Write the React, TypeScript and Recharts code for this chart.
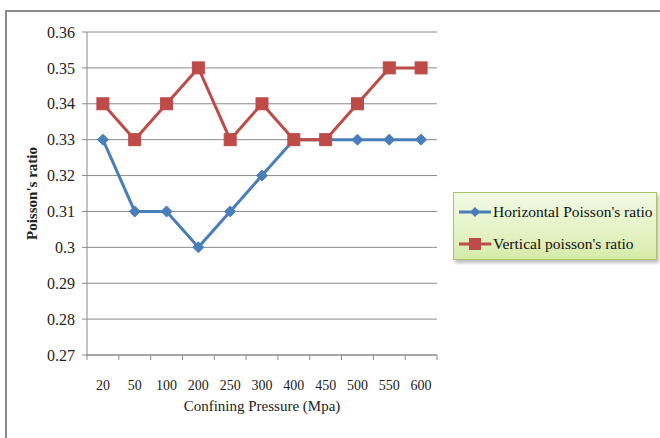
import { LineChart, Line, XAxis, YAxis, CartesianGrid, Label } from "recharts";

const pressures = ["20", "50", "100", "200", "250", "300", "400", "450", "500", "550", "600"];
const horizontalRatio = [0.33, 0.31, 0.31, 0.3, 0.31, 0.32, 0.33, 0.33, 0.33, 0.33, 0.33];
const verticalRatio = [0.34, 0.33, 0.34, 0.35, 0.33, 0.34, 0.33, 0.33, 0.34, 0.35, 0.35];
const yTicks = [0.27, 0.28, 0.29, 0.3, 0.31, 0.32, 0.33, 0.34, 0.35, 0.36];

const BLUE = "#4a7ebb";
const RED = "#be4b48";
const GRID = "#8a8a8a";
const FONT = "'Liberation Serif', 'Times New Roman', serif";

const data = pressures.map((p, i) => ({
  pressure: p,
  horizontal: horizontalRatio[i],
  vertical: verticalRatio[i],
}));

const Diamond = (props: any) => {
  const { cx, cy } = props;
  if (cx == null || cy == null) return null;
  const r = 5.5;
  return (
    <path
      d={`M${cx},${cy - r}L${cx + r},${cy}L${cx},${cy + r}L${cx - r},${cy}Z`}
      fill={BLUE}
      stroke={BLUE}
    />
  );
};

const Square = (props: any) => {
  const { cx, cy } = props;
  if (cx == null || cy == null) return null;
  const s = 6;
  return <rect x={cx - s} y={cy - s} width={s * 2} height={s * 2} fill={RED} stroke={RED} />;
};

const XTick = (props: any) => {
  const { x, y, payload, index } = props;
  const off = payload.offset || 0;
  return (
    <g>
      <line x1={x - off} y1={y} x2={x - off} y2={y + 5} stroke={GRID} />
      {index === pressures.length - 1 && (
        <line x1={x + off} y1={y} x2={x + off} y2={y + 5} stroke={GRID} />
      )}
      <text x={x} y={y + 35} textAnchor="middle" fontSize={14} fontFamily={FONT} fill="#222">
        {payload.value}
      </text>
    </g>
  );
};

const LegendBox = () => (
  <div
    style={{
      position: "absolute",
      left: 453,
      top: 192,
      width: 204,
      height: 68,
      border: "1px solid #a9c46c",
      background: "linear-gradient(180deg, #f3fae4 0%, #e4f2c4 60%, #d6ebaa 100%)",
      boxShadow: "2px 3px 3px rgba(0,0,0,0.25)",
      fontFamily: FONT,
      fontSize: 15.5,
      color: "#111",
      boxSizing: "border-box",
      paddingTop: 6,
    }}
  >
    {[
      { name: "Horizontal Poisson's ratio", color: BLUE, square: false },
      { name: "Vertical poisson's ratio", color: RED, square: true },
    ].map((it) => (
      <div key={it.name} style={{ display: "flex", alignItems: "center", height: 26, marginBottom: 6 }}>
        <svg width={34} height={14} style={{ marginLeft: 5 }}>
          <line x1={0} y1={7} x2={32} y2={7} stroke={it.color} strokeWidth={3} />
          {it.square ? (
            <rect x={10} y={1} width={12} height={12} fill={it.color} />
          ) : (
            <path d="M16,2L21,7L16,12L11,7Z" fill={it.color} />
          )}
        </svg>
        <span style={{ whiteSpace: "nowrap" }}>{it.name}</span>
      </div>
    ))}
  </div>
);

export default function App() {
  return (
    <div style={{ position: "fixed", left: 0, top: 0, width: 660, height: 438, background: "#fff", overflow: "hidden" }}>
      <div
        style={{
          position: "absolute",
          left: 5,
          top: 10,
          width: 700,
          height: 500,
          border: "2px solid #8c8c8c",
          boxSizing: "border-box",
        }}
      />
      <div style={{ position: "absolute", left: 0, top: 0 }}>
        <LineChart
          width={660}
          height={438}
          data={data}
          margin={{ top: 32, right: 223, left: 17, bottom: 23 }}
        >
          <CartesianGrid vertical={false} stroke={GRID} strokeWidth={1} />
          <XAxis
            dataKey="pressure"
            scale="band"
            height={60}
            tickSize={0}
            tickMargin={0}
            tick={<XTick />}
            axisLine={{ stroke: GRID }}
            interval={0}
          >
            <Label
              value="Confining Pressure (Mpa)"
              position="insideBottom"
              offset={4}
              style={{ fontFamily: FONT, fontSize: 15, fill: "#222" }}
            />
          </XAxis>
          <YAxis
            width={70}
            domain={[0.27, 0.36]}
            ticks={yTicks}
            interval={0}
            tickSize={5}
            tickMargin={7}
            axisLine={{ stroke: GRID }}
            tickLine={{ stroke: GRID }}
            tickFormatter={(v: number) => String(Number(v.toFixed(2)))}
            tick={{ fontFamily: FONT, fontSize: 16, fill: "#222" }}
          >
            <Label
              value="Poisson's ratio"
              angle={-90}
              position="insideLeft"
              offset={15}
              style={{ fontFamily: FONT, fontSize: 15, fontWeight: "bold", fill: "#222", textAnchor: "middle" }}
            />
          </YAxis>
          <Line
            dataKey="horizontal"
            name="Horizontal Poisson's ratio"
            stroke={BLUE}
            strokeWidth={3}
            dot={<Diamond />}
            isAnimationActive={false}
          />
          <Line
            dataKey="vertical"
            name="Vertical poisson's ratio"
            stroke={RED}
            strokeWidth={3}
            dot={<Square />}
            isAnimationActive={false}
          />
        </LineChart>
      </div>
      <LegendBox />
    </div>
  );
}
